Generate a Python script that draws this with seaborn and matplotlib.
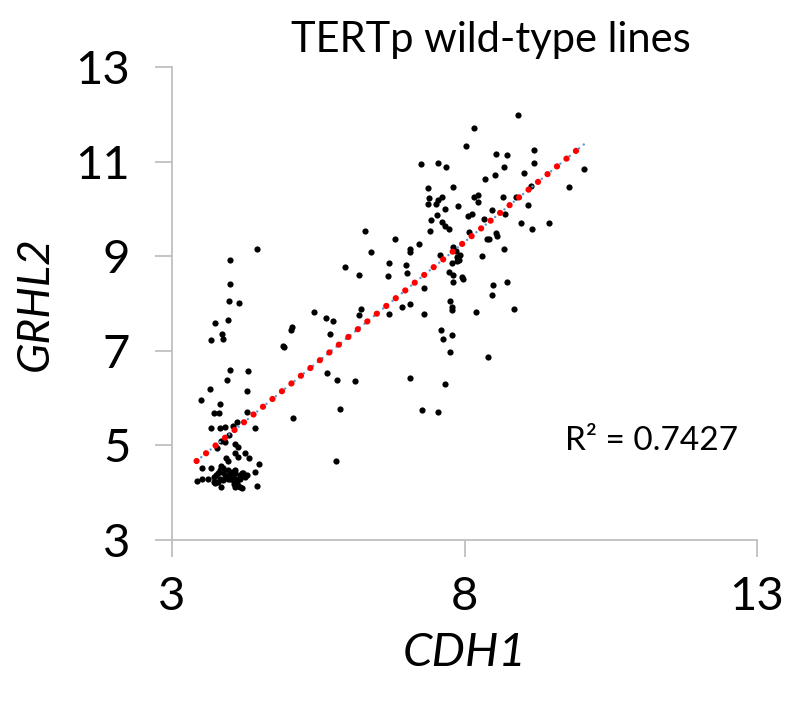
import matplotlib
matplotlib.use("Agg")
import matplotlib.pyplot as plt
import seaborn as sns
import pandas as pd
import numpy as np

# CDH1 / GRHL2 expression values (TERTp wild-type lines)
cdh1_low = [4.45, 4.00, 3.99, 3.98, 4.14, 3.735, 3.95, 3.85, 3.88, 3.67,
            5.05, 5.03, 4.90, 4.91, 3.99, 4.30, 3.935, 3.65, 4.28, 3.50,
            3.82, 3.72, 3.80, 4.29, 5.06, 3.67, 3.82, 3.91, 4.11, 4.04,
            4.42, 3.97, 3.84, 3.91, 3.77, 4.08, 4.12, 4.08, 4.13, 4.24,
            4.32, 3.92, 3.95, 4.48, 3.52, 3.67, 3.84, 3.87,
            3.71, 3.76, 3.79, 3.85, 3.91, 3.82, 3.88, 3.935, 3.99, 4.02,
            4.05, 4.08, 4.11, 4.16, 4.19, 4.24, 3.96, 3.79,
            4.42, 3.42, 3.52, 3.61, 3.735, 3.84, 4.065, 4.13, 4.16, 4.45,
            3.82, 3.88, 3.96, 4.08, 4.22, 4.28, 3.99, 3.71, 4.05, 4.11,
            4.19, 4.08, 4.16]
grhl2_low = [9.15, 8.91, 8.41, 8.05, 8.01, 7.59, 7.65, 7.35, 7.26, 7.23,
             7.51, 7.44, 7.10, 7.09, 6.60, 6.58, 6.38, 6.20, 6.16, 5.95,
             5.88, 5.69, 5.69, 5.71, 5.57, 5.36, 5.37, 5.38, 5.49, 5.42,
             5.37, 5.23, 5.09, 5.07, 4.95, 5.04, 4.97, 4.83, 4.76, 4.83,
             4.74, 4.73, 4.68, 4.60, 4.52, 4.52, 4.56, 4.48,
             4.34, 4.37, 4.41, 4.44, 4.37, 4.30, 4.27, 4.34, 4.37, 4.44,
             4.37, 4.41, 4.30, 4.37, 4.41, 4.34, 4.30, 4.23,
             4.44, 4.25, 4.30, 4.30, 4.20, 4.11, 4.18, 4.15, 4.11, 4.15,
             4.48, 4.52, 4.48, 4.48, 4.41, 4.37, 4.30, 4.23, 4.27, 4.20,
             4.09, 4.13, 4.30]

cdh1_high = [6.30, 6.82, 6.40, 7.22, 7.07, 7.06, 5.95, 6.19, 6.71, 7.00,
             7.02, 6.69, 7.58, 7.80, 7.86, 7.92, 7.88, 7.91, 7.87, 7.79,
             7.74, 7.81, 7.95, 7.97, 7.80, 7.30, 7.07, 6.93, 7.75, 7.78,
             7.78, 7.30, 6.71, 6.23, 6.20, 5.42, 5.64, 5.76, 5.70, 7.59,
             7.79, 7.64, 7.76, 5.65, 5.82, 6.12, 7.06, 7.66, 5.87, 7.27,
             7.55, 5.80, 8.40, 8.49, 8.72, 8.47, 8.85, 8.19, 8.30, 8.68,
             8.38, 8.42, 8.54, 8.56, 8.08, 8.97, 9.16, 9.45, 7.41, 7.74,
             7.62, 7.67, 7.43, 7.53, 8.33, 8.70, 8.06, 8.13, 8.47, 7.67,
             7.89, 9.08, 8.88, 8.66, 8.16, 8.23, 8.23, 7.61, 7.55, 7.52,
             7.40, 7.37, 9.14, 9.79, 7.80, 7.38, 8.35, 8.52, 9.01, 10.04,
             9.19, 8.68, 7.68, 7.55, 7.26, 9.19, 8.73, 8.54, 8.02, 8.17,
             8.91]
grhl2_high = [9.54, 9.37, 9.09, 9.26, 9.15, 9.08, 8.77, 8.60, 8.86, 8.82,
              8.64, 8.58, 9.03, 9.19, 9.10, 9.03, 8.99, 8.93, 8.90, 8.85,
              8.67, 8.60, 8.57, 8.51, 8.45, 8.33, 7.99, 7.93, 8.06, 7.93,
              7.86, 7.78, 7.78, 7.89, 7.76, 7.83, 7.69, 7.63, 7.35, 7.45,
              7.34, 7.26, 6.98, 6.54, 6.38, 6.36, 6.42, 6.30, 5.76, 5.75,
              5.71, 4.67, 6.86, 8.40, 8.46, 8.17, 7.88, 7.81, 9.00, 9.16,
              9.37, 9.37, 9.48, 9.43, 9.52, 9.71, 9.58, 9.70, 9.53, 9.57,
              9.72, 9.64, 9.77, 9.87, 9.79, 9.89, 9.84, 9.90, 9.98, 10.00,
              10.06, 10.08, 10.25, 10.25, 10.25, 10.29, 10.15, 10.25, 10.19, 10.10,
              10.22, 10.10, 10.49, 10.46, 10.46, 10.44, 10.63, 10.71, 10.76, 10.84,
              10.98, 10.89, 10.88, 10.97, 10.94, 11.24, 11.13, 11.17, 11.34, 11.70,
              11.99]

title = "TERTp wild-type lines"
x_label = "CDH1"
y_label = "GRHL2"
r2_label = "R² = 0.7427"
x_ticks = [3, 8, 13]
y_ticks = [3, 5, 7, 9, 11, 13]

df = pd.DataFrame({"CDH1": cdh1_low + cdh1_high, "GRHL2": grhl2_low + grhl2_high})

sns.set_theme(style="white")
plt.rcParams["font.family"] = ["Lato", "DejaVu Sans"]
plt.rcParams["text.color"] = "black"

fig = plt.figure(figsize=(7.85, 7.08), dpi=100)
ax = fig.add_axes([172 / 785, 1 - 540 / 708, 585 / 785, 473 / 708])

# trend lines (blue dotted under red round dots)
sns.regplot(data=df, x="CDH1", y="GRHL2", ax=ax, ci=None, scatter=False, truncate=True,
            line_kws=dict(color="#5B9BD5", lw=1.8, linestyle=(0, (0.01, 2.4)),
                          dash_capstyle="round", zorder=3))
sns.regplot(data=df, x="CDH1", y="GRHL2", ax=ax, ci=None, scatter=False, truncate=True,
            line_kws=dict(color="#FF0000", lw=4.5, linestyle=(0, (0.01, 1.95)),
                          dash_capstyle="round", zorder=4))
sns.scatterplot(data=df, x="CDH1", y="GRHL2", ax=ax, color="black", s=20,
                linewidth=0, zorder=2)

ax.set_xlim(3, 13)
ax.set_ylim(3, 13)
ax.set_xticks(x_ticks)
ax.set_yticks(y_ticks)
ax.set_xticklabels([str(t) for t in x_ticks])
ax.set_yticklabels([str(t) for t in y_ticks])

gray = "#BFBFBF"
for side in ["top", "right"]:
    ax.spines[side].set_visible(False)
for side in ["left", "bottom"]:
    ax.spines[side].set_color(gray)
    ax.spines[side].set_linewidth(1.3)
ax.tick_params(axis="both", which="major", direction="out", length=12, width=1.3,
               color=gray, labelsize=34, labelcolor="black",
               bottom=True, left=True, top=False, right=False)
ax.tick_params(axis="y", pad=18)
ax.tick_params(axis="x", pad=14)
ax.grid(False)

ax.set_xlabel(x_label, fontsize=34, fontstyle="italic", labelpad=10, color="black")
ax.set_ylabel(y_label, fontsize=32, fontstyle="italic", labelpad=14, color="black")

fig.text(491 / 785, 1 - 40 / 708, title, fontsize=30, ha="center", va="center", color="black")
fig.text(565 / 785, 1 - 441 / 708, r2_label, fontsize=24, ha="left", va="center", color="black")

fig.savefig("out.png", dpi=100)
